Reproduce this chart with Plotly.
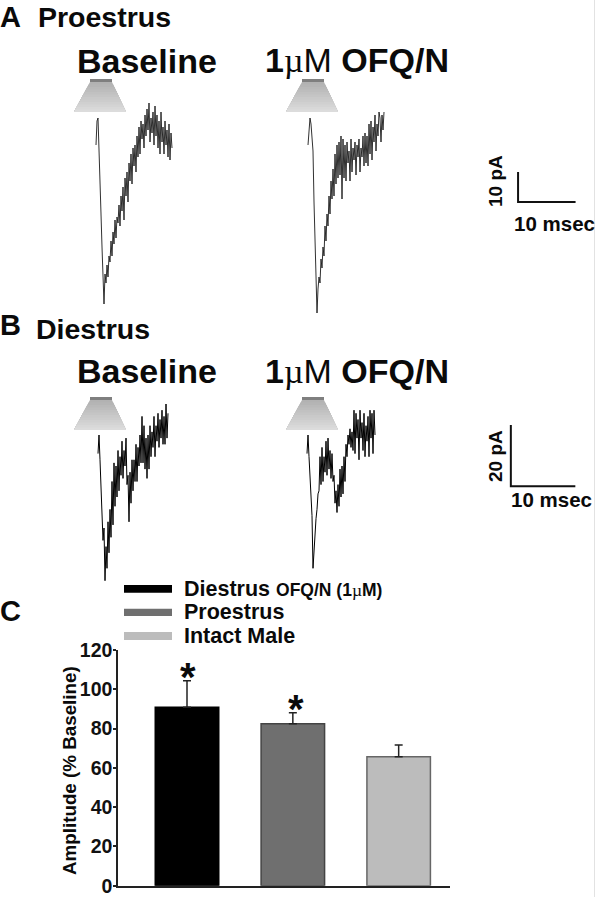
import plotly.graph_objects as go

W, H = 596, 897
FONT = "Liberation Sans"

# Panel C
groups = ["Diestrus", "Proestrus", "Intact Male"]
amplitude = [90.8, 82.5, 65.7]
amplitude_sem = [13.6, 5.5, 5.9]
bar_fill = ["#000000", "#6f6f6f", "#bcbcbc"]
bar_edge = ["#000000", "#444444", "#666666"]
y_ticks = [0, 20, 40, 60, 80, 100, 120]

# Current traces, pA, one sample per step
proestrus_baseline = [-9,-1,0,-9,-20,-32,-43,-58,-62,-52,-55,-49,-53,-46,-48,-41,-46,-38,-42,-34,-40,-33,-35,-29,-36,-26,-31,-23,-34,-20,-26,-18,-28,-15,-21,-12,-22,-10,-16,-9,-18,-6,-13,-3,-12,-1,-7,-2,-10,1,-6,3,-4,5,-8,0,-5,2,-9,4,-6,1,-10,-1,-12,2,-8,-3,-12,-1,-9,-4,-13,-2,-14,-5,-10]
proestrus_ofq = [-9,-3,0,-2,-6,-11,-28,-44,-58,-65,-57,-53,-55,-47,-50,-43,-46,-36,-41,-32,-36,-26,-32,-21,-27,-17,-26,-12,-22,-9,-20,-8,-19,-6,-27,-7,-20,-9,-21,-8,-15,-11,-21,-7,-18,-10,-14,-8,-19,-9,-13,-7,-18,-10,-13,-6,-16,-5,-15,-6,-16,-2,-12,-1,-14,-3,-8,1,-11,-2,-6,2,0,-8,1,-4,2]
diestrus_baseline = [-6,0,-8,-16,-24,-34,-30,-47,-36,-43,-28,-38,-24,-33,-15,-29,-9,-23,-10,-20,-5,-18,-7,-13,-2,-14,-5,-10,-1,-16,-13,-28,-12,-22,-8,-18,-8,-15,-3,-15,-4,-10,0,-9,6,-9,3,-11,-1,-14,0,-11,3,-7,1,-4,6,-7,3,-2,7,-4,5,-1,8,-3,6,-3,10,-1,7]
diestrus_ofq = [-6,0,-7,-13,-20,-26,-43,-36,-30,-27,-24,-19,-18,-7,-16,-4,-15,-7,-12,-2,-13,-1,-11,-5,-14,-6,-15,-13,-22,-18,-25,-16,-23,-11,-20,-10,-19,-7,-15,-3,-7,0,-3,2,-4,1,-5,8,-6,7,-1,5,-8,8,-1,4,-5,7,-7,3,-2,6,-7,8,-1,7,-6,8,0]

# Scale bars (ms, pA)
scale_a_ms, scale_a_pA = [90.1, 90.1, 100.1], [-18, -28, -28]
scale_b_ms, scale_b_pA = [79.2, 79.2, 89.2], [3.2, -16.5, -16.5]


def px(x):
    return x / W


def py(y):
    return 1 - y / H


fig = go.Figure()

A_MS, A_PA = 5.75, 3.0
B_MS, B_PA = 6.45, 3.1
hidden = dict(visible=False, fixedrange=True, automargin=False)
fig.update_layout(
    xaxis=dict(domain=[px(118), px(450)], range=[-0.652, 2.485], anchor="y", automargin=False,
               tickvals=[], showline=True, linecolor="#222", linewidth=1.5, zeroline=False, showgrid=False),
    yaxis=dict(domain=[py(885.7), py(650)], range=[0, 120], anchor="x", tickvals=y_ticks, automargin=False,
               ticks="outside", ticklen=3, tickwidth=1.5, tickcolor="#222", showline=True,
               linecolor="#222", linewidth=1.5, showgrid=False, zeroline=False, ticklabelstandoff=-3,
               tickfont=dict(family=FONT, size=19.5, color="#111", weight="bold")),
    xaxis2=dict(domain=[0, 1], range=[0, W / A_MS], anchor="y2", **hidden),
    yaxis2=dict(domain=[py(320), 1], range=[-(320 - 118) / A_PA, 118 / A_PA], anchor="x2", **hidden),
    xaxis3=dict(domain=[0, 1], range=[0, W / B_MS], anchor="y3", **hidden),
    yaxis3=dict(domain=[py(600), py(330)], range=[-(600 - 435) / B_PA, (435 - 330) / B_PA], anchor="x3", **hidden),
)

fig.add_trace(go.Bar(x=[0, 1, 2], y=amplitude, width=0.6, xaxis="x", yaxis="y",
                     marker=dict(color=bar_fill, line=dict(color=bar_edge, width=1.5)),
                     error_y=dict(type="data", symmetric=False, array=amplitude_sem,
                                  arrayminus=[0, 0, 0], color="#222", thickness=1.5, width=4),
                     customdata=groups, showlegend=False))

traces = [
    (proestrus_baseline, 96 / A_MS, 1 / A_MS, "x2", "y2", "#1a1a1a", 0.9),
    (proestrus_ofq, 308 / A_MS, 1 / A_MS, "x2", "y2", "#1a1a1a", 0.9),
    (diestrus_baseline, 98 / B_MS, 1 / B_MS, "x3", "y3", "#000000", 1.0),
    (diestrus_ofq, 307 / B_MS, 1 / B_MS, "x3", "y3", "#000000", 1.0),
]
for vals, x0, dx, xa, ya, col, lw in traces:
    fig.add_trace(go.Scatter(y=vals, x0=x0, dx=dx, xaxis=xa, yaxis=ya, mode="lines",
                             line=dict(color=col, width=lw), showlegend=False))

for xs, ys, xa, ya in [(scale_a_ms, scale_a_pA, "x2", "y2"), (scale_b_ms, scale_b_pA, "x3", "y3")]:
    fig.add_trace(go.Scatter(x=xs, y=ys, xaxis=xa, yaxis=ya, mode="lines",
                             line=dict(color="#111", width=2), showlegend=False))

shapes = []


def paper_rect(x0, y0, x1, y1, color):
    shapes.append(dict(type="rect", xref="paper", yref="paper", x0=px(x0), x1=px(x1),
                       y0=py(y1), y1=py(y0), fillcolor=color, line=dict(width=0), layer="above"))


# Light cone icons above the traces; each band runs to the cone's foot so no seams show
for left, top in [(74, 82), (286, 82), (74, 400), (286, 400)]:
    n = 12
    height = 30
    foot_a, foot_b = left, left + 52
    foot_y = top + height
    for i in range(n):
        t0 = i / n
        y0 = top + height * t0
        a0, b0 = left + 16 - 16 * t0, left + 38 + 14 * t0
        g = int(178 + 46 * t0)
        path = f"M {px(a0)} {py(y0)} L {px(b0)} {py(y0)} L {px(foot_b)} {py(foot_y)} L {px(foot_a)} {py(foot_y)} Z"
        shapes.append(dict(type="path", xref="paper", yref="paper", path=path,
                           fillcolor=f"rgb({g},{g},{g})", line=dict(width=0), layer="below"))
    paper_rect(left + 16, top - 3, left + 38, top, "#7f7f7f")

paper_rect(124, 585, 172, 592.7, "#000000")
paper_rect(124, 608.7, 172, 616, "#6f6f6f")
paper_rect(124, 632, 172, 640, "#bcbcbc")
paper_rect(594, 0, 595, 897, "#e2e2e2")

annots = []


def label(text, x, y, size, anchor="left", angle=0):
    annots.append(dict(text=text, xref="paper", yref="paper", x=px(x), y=py(y), xanchor=anchor,
                       yanchor="middle", showarrow=False, textangle=angle,
                       font=dict(family=FONT, size=size, color="#0a0a0a"), borderpad=0, borderwidth=0))


MU = "<span style='font-family:Liberation Serif'>µ</span>"
label("<b>A</b>", 0, 17, 29)
label("<b>Proestrus</b>", 38, 17, 28.5)
label("<b>B</b>", 0, 325, 29)
label("<b>Diestrus</b>", 36, 329, 28.5)
label("<b>C</b>", 0, 611, 29)
label("<b>Baseline</b>", 77, 61, 34)
label("<b>Baseline</b>", 77, 371, 34)
label(f"<b>1</b>{MU}M <b>OFQ/N</b>", 265, 60, 34)
label(f"<b>1</b>{MU}M <b>OFQ/N</b>", 265, 371, 34)
label("<b>10 msec</b>", 514, 223, 20.5)
label("<b>10 msec</b>", 511, 499, 20.5)
label("<b>10 pA</b>", 496, 181, 19, anchor="center", angle=-90)
label("<b>20 pA</b>", 495, 456, 19, anchor="center", angle=-90)
label(f"<b>Diestrus</b> <span style='font-size:17.5px'><b>OFQ/N (1</b>{MU}<b>M)</b></span>", 184, 589, 21.5)
label("<b>Proestrus</b>", 184, 612, 21.5)
label("<b>Intact Male</b>", 184, 636, 21.5)
label("<b>Amplitude (% Baseline)</b>", 69, 771, 18.8, anchor="center", angle=-90)

for xv, yv in [(0.01, 106.5), (1.03, 90)]:
    annots.append(dict(text="<b>*</b>", xref="x", yref="y", x=xv, y=yv, showarrow=False, yanchor="middle",
                       font=dict(family=FONT, size=40, color="#0a0a0a")))

fig.update_layout(width=W, height=H, margin=dict(l=0, r=0, t=0, b=0), paper_bgcolor="white",
                  plot_bgcolor="rgba(0,0,0,0)", showlegend=False, shapes=shapes, annotations=annots)

fig.write_html("out.html", post_script="document.body.style.margin='0';document.documentElement.style.overflow='hidden';",
               config=dict(displayModeBar=False))
